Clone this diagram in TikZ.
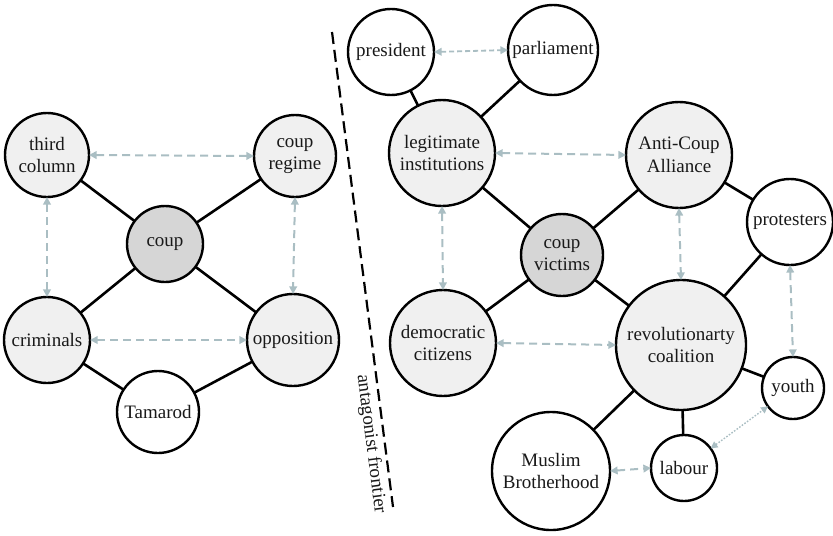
\documentclass[tikz,border=0pt]{standalone}
\usepackage{fontspec}
\setmainfont{Liberation Serif}
\usetikzlibrary{arrows.meta}
\definecolor{linkgray}{RGB}{170,190,195}
\definecolor{paleFill}{RGB}{240,240,240}
\definecolor{coreFill}{RGB}{214,214,214}
\definecolor{inkcol}{RGB}{25,25,25}
\tikzset{
  actor/.style={circle, draw=black, line width=1.2pt, inner sep=0pt, outer sep=0pt,
    align=center, text=inkcol, font=\rmfamily\fontsize{9.5}{11.3}\selectfont},
  pale/.style={actor, fill=paleFill},
  core/.style={actor, fill=coreFill},
  plain/.style={actor, fill=white},
  tie/.style={draw=black, line width=1.3pt},
  equiv/.style={draw=linkgray, line width=1pt, dash pattern=on 4pt off 2.5pt,
    {Triangle[length=3.8pt,width=3.8pt]}-{Triangle[length=3.8pt,width=3.8pt]}},
  equivshort/.style={equiv, line width=0.9pt, dash pattern=on 2.5pt off 1.5pt},
  equivdot/.style={draw=linkgray, line width=0.7pt, dash pattern=on 0.8pt off 0.8pt,
    {Triangle[length=3.5pt,width=3.5pt]}-{Triangle[length=3.5pt,width=3.5pt]}},
  frontier/.style={draw=black, line width=1.1pt, dash pattern=on 6pt off 3pt},
}
\begin{document}
\begin{tikzpicture}[x=0.5pt, y=-0.5pt]
\useasboundingbox (0,0) rectangle (833,535);

% left-hand chain
\node[pale, minimum size=42pt] (third) at (47,155) {third\\column};
\node[pale, minimum size=41pt] (regime) at (295,156) {coup\\regime};
\node[core, minimum size=38pt] (coup) at (165,244) {coup};
\node[pale, minimum size=43pt] (crim) at (47,340) {criminals};
\node[pale, minimum size=46pt] (opp) at (293,340) {opposition};
\node[plain, minimum size=41pt] (tam) at (158,412) {Tamarod};

\draw[tie] (third) -- (coup);
\draw[tie] (regime) -- (coup);
\draw[tie] (coup) -- (crim);
\draw[tie] (coup) -- (opp);
\draw[tie] (crim) -- (tam);
\draw[tie] (tam) -- (opp);

\draw[equiv] (third.east) -- (regime.west);
\draw[equiv] (third.south) -- (crim.north);
\draw[equiv] (regime.south) -- (opp.north);
\draw[equiv] (crim.east) -- (opp.west);

% frontier between the two chains
\coordinate (ftop) at (332,32);
\coordinate (fbot) at (393,507);
\draw[frontier] (ftop) -- (fbot);
\node[rotate=-82.7, text=inkcol, font=\rmfamily\fontsize{9.5}{11.3}\selectfont, inner sep=0pt]
  (frlabel) at (371,444) {antagonist frontier};

% right-hand chain
\node[plain, minimum size=43pt] (pres) at (391,52) {president};
\node[plain, minimum size=45pt] (parl) at (553,50) {parliament};
\node[pale, minimum size=53pt] (legit) at (442,153) {legitimate\\institutions};
\node[pale, minimum size=53pt] (anti) at (679,155) {Anti-Coup\\Alliance};
\node[plain, minimum size=43pt] (prot) at (790,222) {protesters};
\node[core, minimum size=41pt] (vict) at (562,255) {coup\\victims};
\node[pale, minimum size=53pt] (dem) at (443,343) {democratic\\citizens};
\node[pale, minimum size=65pt] (rev) at (681,345) {revolutionarty\\coalition};
\node[plain, minimum size=31pt] (youth) at (793,388) {youth};
\node[plain, minimum size=33pt] (lab) at (684,468) {labour};
\node[plain, minimum size=59pt] (mb) at (551,471) {Muslim\\Brotherhood};

\draw[tie] (pres) -- (legit);
\draw[tie] (parl) -- (legit);
\draw[tie] (legit) -- (vict);
\draw[tie] (anti) -- (vict);
\draw[tie] (vict) -- (dem);
\draw[tie] (vict) -- (rev);
\draw[tie] (anti) -- (prot);
\draw[tie] (prot) -- (rev);
\draw[tie] (rev) -- (youth);
\draw[tie] (rev) -- (lab);
\draw[tie] (rev) -- (mb);

\draw[equivshort] (pres.east) -- (parl.west);
\draw[equiv] (legit.east) -- (anti.west);
\draw[equiv] (legit.south) -- (dem.north);
\draw[equiv] (anti.south) -- (rev.north);
\draw[equiv] (prot.south) -- (youth.north);
\draw[equiv] (dem.east) -- (rev.west);
\draw[equiv] (mb.east) -- (lab.west);
\draw[equivdot] (lab) -- (youth);
\end{tikzpicture}
\end{document}
